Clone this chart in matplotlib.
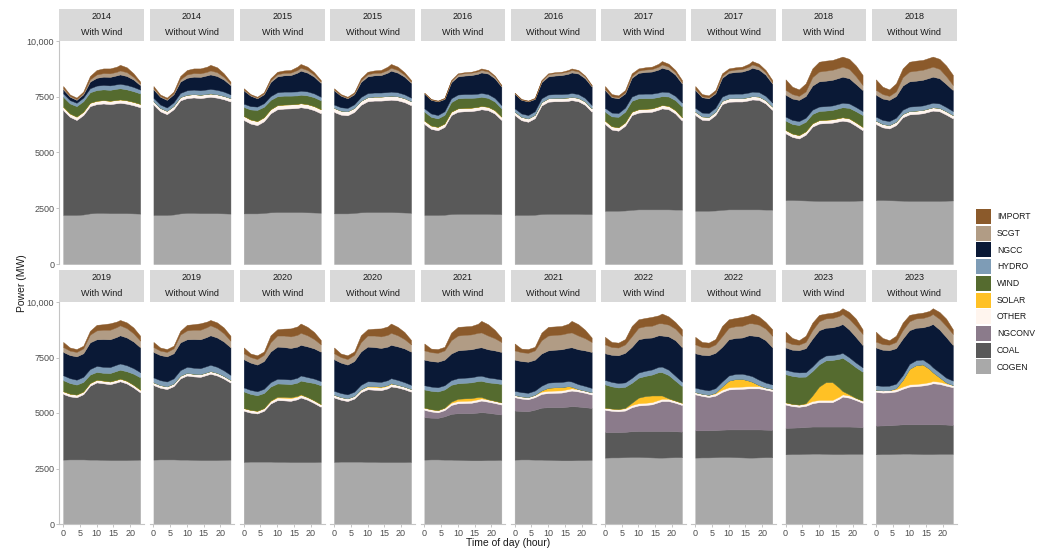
import matplotlib
matplotlib.use("Agg")
import matplotlib.pyplot as plt
from matplotlib.patches import Patch

plt.rcParams['font.family'] = ['Liberation Sans', 'DejaVu Sans']

HOURS = [0, 2, 4, 6, 8, 10, 12, 14, 16, 17, 19, 21, 23]
YEARS = [2014, 2015, 2016, 2017, 2018, 2019, 2020, 2021, 2022, 2023]
CASES = ['With Wind', 'Without Wind']

# MW by hour, one row per year (2014..2023)
COGEN = [
    [2200, 2200, 2200, 2220, 2270, 2290, 2290, 2280, 2280, 2280, 2280, 2270, 2260],
    [2270, 2270, 2270, 2290, 2320, 2330, 2330, 2330, 2330, 2330, 2320, 2310, 2300],
    [2200, 2200, 2200, 2210, 2240, 2250, 2250, 2250, 2250, 2250, 2250, 2240, 2240],
    [2390, 2390, 2390, 2400, 2430, 2450, 2450, 2450, 2450, 2450, 2450, 2440, 2440],
    [2870, 2870, 2860, 2850, 2840, 2830, 2830, 2830, 2830, 2830, 2830, 2840, 2850],
    [2900, 2910, 2910, 2910, 2900, 2900, 2890, 2880, 2880, 2880, 2880, 2890, 2900],
    [2800, 2810, 2810, 2810, 2810, 2800, 2800, 2790, 2790, 2790, 2790, 2790, 2800],
    [2900, 2910, 2910, 2900, 2900, 2890, 2880, 2870, 2870, 2870, 2880, 2880, 2890],
    [2990, 3000, 3000, 3010, 3020, 3020, 3010, 3000, 2990, 2990, 3000, 3010, 3010],
    [3140, 3150, 3150, 3160, 3170, 3170, 3160, 3150, 3150, 3150, 3160, 3160, 3160],
]

COAL_WITH = [
    [4700, 4400, 4260, 4460, 4810, 4880, 4910, 4890, 4930, 4950, 4910, 4850, 4770],
    [4190, 4030, 3960, 4110, 4440, 4610, 4640, 4650, 4670, 4700, 4670, 4590, 4460],
    [4080, 3860, 3800, 3940, 4440, 4580, 4600, 4610, 4650, 4690, 4650, 4510, 4220],
    [3890, 3640, 3590, 3800, 4250, 4340, 4360, 4380, 4470, 4530, 4490, 4310, 3990],
    [2990, 2830, 2770, 2950, 3320, 3470, 3490, 3510, 3570, 3600, 3550, 3360, 3150],
    [2960, 2840, 2800, 2940, 3330, 3480, 3450, 3420, 3500, 3550, 3450, 3260, 3030],
    [2300, 2210, 2170, 2290, 2620, 2780, 2770, 2760, 2830, 2910, 2810, 2660, 2480],
    [1910, 1880, 1870, 1950, 2060, 2100, 2110, 2120, 2150, 2170, 2130, 2090, 2040],
    [1150, 1140, 1140, 1140, 1160, 1170, 1180, 1190, 1200, 1200, 1190, 1170, 1150],
    [1190, 1190, 1200, 1210, 1220, 1220, 1230, 1240, 1240, 1240, 1230, 1220, 1200],
]

COAL_WITHOUT = [
    [4950, 4650, 4520, 4720, 5070, 5150, 5180, 5160, 5200, 5220, 5180, 5120, 5030],
    [4550, 4430, 4400, 4530, 4820, 4970, 5000, 5000, 5020, 5040, 5020, 4950, 4820],
    [4480, 4250, 4180, 4330, 4870, 5030, 5050, 5050, 5070, 5100, 5050, 4900, 4590],
    [4290, 4080, 4060, 4280, 4740, 4830, 4840, 4840, 4890, 4930, 4910, 4760, 4470],
    [3410, 3260, 3220, 3380, 3740, 3880, 3900, 3930, 4010, 4050, 4020, 3860, 3680],
    [3360, 3230, 3170, 3300, 3660, 3790, 3760, 3750, 3840, 3890, 3810, 3660, 3470],
    [2900, 2790, 2730, 2840, 3130, 3270, 3250, 3240, 3320, 3410, 3360, 3280, 3160],
    [2210, 2180, 2170, 2250, 2340, 2370, 2380, 2390, 2420, 2440, 2410, 2380, 2340],
    [1230, 1220, 1220, 1220, 1230, 1240, 1250, 1260, 1270, 1270, 1260, 1240, 1230],
    [1290, 1290, 1300, 1310, 1320, 1320, 1330, 1340, 1340, 1340, 1330, 1320, 1300],
]

# NGCONV and SOLAR only show up in the later years
NGCONV_WITH = {
    2021: [330, 280, 250, 280, 400, 450, 460, 470, 500, 520, 500, 480, 450],
    2022: [1000, 960, 940, 960, 1080, 1150, 1170, 1200, 1300, 1350, 1350, 1280, 1200],
    2023: [1050, 970, 930, 950, 1050, 1100, 1100, 1100, 1250, 1350, 1300, 1200, 1100],
}
NGCONV_WITHOUT = {
    2021: [600, 560, 540, 560, 620, 640, 650, 660, 690, 700, 680, 650, 600],
    2022: [1620, 1550, 1500, 1550, 1700, 1800, 1820, 1830, 1850, 1850, 1850, 1800, 1750],
    2023: [1520, 1480, 1480, 1500, 1600, 1700, 1720, 1750, 1800, 1850, 1820, 1750, 1700],
}

OTHER = [
    [150, 150, 150, 150, 150, 150, 150, 150, 150, 150, 150, 150, 150],
    [180, 180, 180, 180, 180, 180, 180, 180, 180, 180, 180, 180, 180],
    [150, 150, 150, 150, 150, 150, 150, 150, 150, 150, 150, 150, 150],
    [150, 150, 150, 150, 150, 150, 150, 150, 150, 150, 150, 150, 150],
    [150, 150, 150, 150, 150, 150, 150, 150, 150, 150, 150, 150, 150],
    [120, 120, 120, 120, 120, 120, 120, 120, 120, 120, 120, 120, 120],
    [120, 120, 120, 120, 120, 120, 120, 120, 120, 120, 120, 120, 120],
    [100, 100, 100, 100, 100, 100, 100, 100, 100, 100, 100, 100, 100],
    [100, 100, 100, 100, 100, 100, 100, 100, 100, 100, 100, 100, 100],
    [100, 100, 100, 100, 100, 100, 100, 100, 100, 100, 100, 100, 100],
]

SOLAR_WITH = {
    2020: [0, 0, 0, 0, 10, 30, 40, 40, 30, 20, 0, 0, 0],
    2021: [0, 0, 0, 10, 50, 100, 110, 110, 100, 60, 10, 0, 0],
    2022: [0, 0, 0, 20, 100, 250, 300, 300, 200, 150, 20, 0, 0],
    2023: [0, 0, 0, 20, 250, 600, 800, 800, 400, 150, 50, 0, 0],
}
SOLAR_WITHOUT = {
    2020: [0, 0, 0, 0, 10, 30, 40, 40, 30, 20, 0, 0, 0],
    2021: [0, 0, 0, 10, 60, 140, 150, 150, 130, 80, 10, 0, 0],
    2022: [0, 0, 0, 40, 150, 300, 350, 350, 250, 200, 50, 0, 0],
    2023: [0, 0, 0, 50, 300, 700, 850, 850, 600, 400, 200, 50, 0],
}

WIND = [
    [450, 450, 470, 470, 470, 480, 480, 490, 500, 500, 490, 480, 470],
    [400, 450, 500, 470, 420, 400, 400, 390, 380, 380, 390, 400, 400],
    [400, 390, 380, 390, 430, 450, 450, 440, 420, 410, 400, 390, 370],
    [400, 440, 470, 480, 490, 490, 480, 460, 420, 400, 420, 450, 480],
    [420, 430, 450, 430, 420, 410, 410, 420, 440, 450, 470, 500, 530],
    [500, 480, 450, 430, 380, 350, 350, 380, 400, 400, 430, 500, 560],
    [750, 720, 700, 680, 630, 600, 590, 590, 600, 620, 680, 780, 850],
    [820, 830, 840, 820, 760, 700, 700, 710, 720, 730, 760, 800, 830],
    [1050, 1000, 970, 950, 900, 900, 910, 940, 1050, 1050, 1050, 900, 750],
    [1270, 1260, 1250, 1200, 1100, 1000, 980, 1000, 1300, 1500, 1450, 1380, 1300],
]

HYDRO = [
    [150, 150, 150, 160, 180, 200, 200, 200, 200, 200, 200, 190, 170],
    [150, 150, 150, 160, 170, 180, 180, 180, 180, 180, 180, 170, 160],
    [150, 150, 150, 160, 170, 170, 170, 170, 170, 170, 170, 160, 150],
    [170, 170, 170, 180, 190, 200, 200, 200, 200, 200, 200, 190, 180],
    [180, 180, 180, 180, 190, 200, 200, 200, 200, 200, 200, 190, 180],
    [220, 220, 220, 230, 250, 270, 270, 270, 280, 280, 270, 250, 230],
    [180, 180, 180, 190, 200, 210, 210, 210, 220, 230, 220, 200, 190],
    [190, 190, 190, 190, 210, 230, 230, 230, 230, 230, 220, 210, 200],
    [200, 200, 200, 200, 220, 230, 230, 230, 240, 250, 240, 220, 200],
    [200, 200, 200, 200, 210, 220, 220, 220, 220, 220, 220, 210, 200],
]

NGCC_WITH = [
    [180, 150, 130, 150, 300, 350, 370, 380, 400, 420, 400, 330, 200],
    [590, 470, 370, 400, 630, 710, 730, 740, 840, 900, 840, 750, 620],
    [660, 610, 610, 550, 720, 810, 830, 850, 890, 920, 920, 880, 830],
    [800, 690, 660, 640, 840, 940, 970, 990, 1030, 1070, 1010, 950, 850],
    [980, 960, 950, 970, 1080, 1130, 1140, 1150, 1160, 1170, 1130, 1030, 940],
    [1050, 1040, 1050, 1060, 1200, 1200, 1250, 1250, 1250, 1270, 1250, 1200, 1120],
    [1270, 1230, 1200, 1250, 1380, 1450, 1440, 1420, 1400, 1380, 1380, 1360, 1320],
    [1150, 1150, 1150, 1150, 1200, 1250, 1260, 1260, 1270, 1280, 1270, 1260, 1240],
    [1200, 1220, 1250, 1330, 1400, 1500, 1480, 1440, 1420, 1400, 1500, 1600, 1550],
    [1000, 980, 1000, 1080, 1250, 1320, 1250, 1250, 1280, 1300, 1250, 1150, 1000],
]

NGCC_WITHOUT = [
    [380, 350, 340, 360, 510, 560, 580, 600, 630, 650, 620, 540, 410],
    [630, 520, 430, 450, 670, 750, 770, 780, 870, 940, 880, 790, 660],
    [660, 610, 610, 550, 720, 810, 830, 850, 890, 920, 920, 880, 830],
    [800, 690, 660, 640, 840, 940, 970, 990, 1030, 1070, 1010, 950, 850],
    [980, 960, 950, 970, 1080, 1130, 1140, 1150, 1160, 1170, 1130, 1030, 940],
    [1150, 1130, 1130, 1130, 1250, 1240, 1290, 1300, 1310, 1330, 1320, 1300, 1240],
    [1420, 1370, 1340, 1380, 1500, 1560, 1550, 1530, 1510, 1500, 1510, 1520, 1490],
    [1400, 1400, 1400, 1390, 1450, 1450, 1460, 1470, 1500, 1540, 1570, 1600, 1620],
    [1550, 1550, 1580, 1590, 1560, 1630, 1620, 1630, 1800, 1830, 1950, 1910, 1670],
    [1700, 1630, 1600, 1600, 1650, 1520, 1460, 1450, 1730, 1950, 1930, 1830, 1600],
]

SCGT = [
    [50, 40, 40, 50, 100, 150, 160, 160, 160, 180, 170, 120, 70],
    [40, 30, 30, 40, 80, 100, 110, 110, 120, 130, 120, 90, 60],
    [20, 20, 20, 30, 60, 100, 110, 110, 110, 110, 100, 80, 40],
    [50, 40, 40, 50, 80, 100, 110, 110, 130, 150, 130, 100, 60],
    [220, 200, 180, 210, 380, 440, 450, 450, 450, 450, 420, 350, 230],
    [220, 200, 200, 220, 350, 400, 420, 430, 440, 450, 420, 370, 300],
    [270, 250, 250, 280, 420, 500, 520, 520, 530, 540, 500, 420, 330],
    [420, 400, 400, 420, 600, 670, 670, 670, 670, 670, 620, 550, 450],
    [400, 350, 350, 380, 480, 520, 530, 530, 540, 550, 530, 520, 520],
    [270, 250, 250, 280, 380, 400, 420, 420, 430, 450, 480, 500, 500],
]

IMPORT = [
    [100, 60, 60, 70, 150, 200, 210, 220, 230, 250, 220, 160, 90],
    [60, 40, 40, 50, 90, 110, 110, 120, 150, 170, 150, 110, 70],
    [20, 20, 20, 20, 40, 40, 40, 40, 60, 70, 60, 40, 30],
    [130, 100, 90, 100, 120, 100, 100, 110, 130, 150, 130, 110, 100],
    [470, 330, 290, 360, 390, 440, 450, 440, 450, 450, 450, 480, 450],
    [230, 140, 130, 120, 170, 250, 250, 290, 250, 240, 260, 260, 220],
    [260, 160, 170, 150, 310, 280, 310, 360, 380, 420, 380, 320, 200],
    [310, 160, 170, 160, 340, 390, 380, 380, 410, 520, 510, 380, 200],
    [340, 230, 220, 240, 460, 380, 370, 400, 360, 440, 370, 300, 290],
    [440, 280, 200, 280, 340, 290, 220, 240, 230, 260, 310, 330, 210],
]

# stacking order, bottom to top
SOURCES = ['COGEN', 'COAL', 'NGCONV', 'OTHER', 'SOLAR', 'WIND', 'HYDRO', 'NGCC', 'SCGT', 'IMPORT']
COLORS = {
    'COGEN': '#A9A9A9',
    'COAL': '#595959',
    'NGCONV': '#8B7B8B',
    'OTHER': '#FFF5EE',
    'SOLAR': '#FFC125',
    'WIND': '#556B2F',
    'HYDRO': '#7E9CB6',
    'NGCC': '#0A1936',
    'SCGT': '#B19C85',
    'IMPORT': '#8B5A2B',
}


def layers_for(year, case):
    i = YEARS.index(year)
    none = [0] * len(HOURS)
    if case == 'With Wind':
        return [COGEN[i], COAL_WITH[i], NGCONV_WITH.get(year, none), OTHER[i],
                SOLAR_WITH.get(year, none), WIND[i], HYDRO[i], NGCC_WITH[i],
                SCGT[i], IMPORT[i]]
    return [COGEN[i], COAL_WITHOUT[i], NGCONV_WITHOUT.get(year, none), OTHER[i],
            SOLAR_WITHOUT.get(year, none), none, HYDRO[i], NGCC_WITHOUT[i],
            SCGT[i], IMPORT[i]]


W, H = 1047, 550
fig = plt.figure(figsize=(W / 100, H / 100), dpi=100)


def px_axes(x0, y0, x1, y1):
    return fig.add_axes([x0 / W, 1 - y1 / H, (x1 - x0) / W, (y1 - y0) / H])


AXIS_GREY = '#C4C4C4'
TEXT_GREY = '#4D4D4D'
row_top = [41, 302]
row_bottom = [264, 524]
strip_top = [8.5, 270]

for p in range(20):
    row, col = divmod(p, 10)
    year = YEARS[row * 5 + col // 2]
    case = CASES[col % 2]
    x0 = 59.3 + col * 90.3
    x1 = x0 + 84.7

    ax = px_axes(x0, row_top[row], x1, row_bottom[row])
    colls = ax.stackplot(HOURS, layers_for(year, case),
                         colors=[COLORS[s] for s in SOURCES])
    for c in colls:
        c.set_edgecolor(c.get_facecolor())
        c.set_linewidth(0.3)
    ax.set_xlim(-1.15, 24.15)
    ax.set_ylim(0, 10000)
    for side in ['top', 'right']:
        ax.spines[side].set_visible(False)
    ax.spines['left'].set_visible(col == 0)
    ax.spines['bottom'].set_visible(row == 1)
    ax.spines['left'].set_color(AXIS_GREY)
    ax.spines['bottom'].set_color(AXIS_GREY)
    ax.spines['left'].set_linewidth(0.8)
    ax.spines['bottom'].set_linewidth(0.8)
    ax.set_xticks([0, 5, 10, 15, 20])
    ax.set_yticks([0, 2500, 5000, 7500, 10000])
    ax.set_yticklabels(['0', '2500', '5000', '7500', '10,000'])
    ax.tick_params(colors=AXIS_GREY, labelcolor=TEXT_GREY, labelsize=6.5,
                   length=2.2, width=0.7, pad=1.5,
                   left=(col == 0), labelleft=(col == 0),
                   bottom=(row == 1), labelbottom=(row == 1))

    strip = px_axes(x0, strip_top[row], x1, row_top[row] - 0.3)
    strip.set_facecolor('#D9D9D9')
    strip.set_xticks([])
    strip.set_yticks([])
    for s in strip.spines.values():
        s.set_visible(False)
    strip.text(0.5, 0.75, str(year), ha='center', va='center', fontsize=6.5,
               color='#1A1A1A', transform=strip.transAxes)
    strip.text(0.5, 0.25, case, ha='center', va='center', fontsize=6.5,
               color='#1A1A1A', transform=strip.transAxes)

fig.text(508 / W, 1 - 543.5 / H, 'Time of day (hour)', ha='center', va='center',
         fontsize=7.5, color='#1A1A1A')
fig.text(22 / W, 1 - 283 / H, 'Power (MW)', ha='center', va='center',
         rotation=90, fontsize=7.5, color='#1A1A1A')

handles = [Patch(facecolor=COLORS[s], edgecolor='none') for s in SOURCES[::-1]]
fig.legend(handles, SOURCES[::-1], loc='upper left',
           bbox_to_anchor=(976 / W, 1 - 209 / H), frameon=False, fontsize=6.2,
           handlelength=1.75, handleheight=2.3, labelspacing=0.2,
           handletextpad=0.7, borderpad=0, borderaxespad=0,
           labelcolor='#1A1A1A')

fig.savefig('out.png', dpi=100)
